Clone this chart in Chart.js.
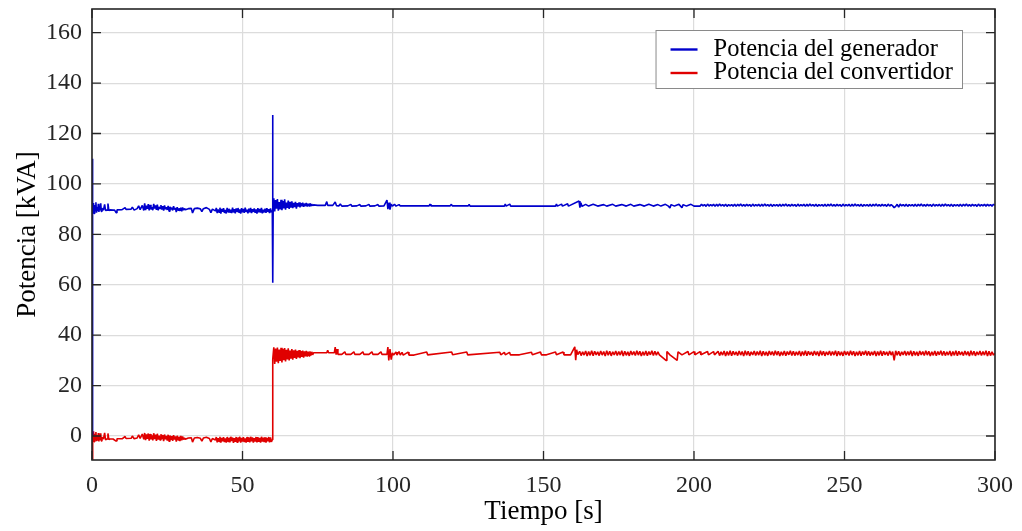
<!DOCTYPE html>
<html>
<head>
<meta charset="utf-8">
<script src="https://cdn.jsdelivr.net/npm/chart.js@4.4.1/dist/chart.umd.min.js"></script>
<style>
  html, body { margin: 0; padding: 0; background: #ffffff; }
  #wrap { width: 1022px; height: 531px; position: relative; }
</style>
</head>
<body>
<div id="wrap"><canvas id="c"></canvas></div>
<script>
// ---------------- DATA ----------------
const seriesLabels = ['Potencia del generador', 'Potencia del convertidor'];
const xTickValues = [0, 50, 100, 150, 200, 250, 300];
const yTickValues = [0, 20, 40, 60, 80, 100, 120, 140, 160];
const xLabel = 'Tiempo [s]';
const yLabel = 'Potencia [kVA]';

// Potencia del generador: time [s]
const tGenerador = [
  0, 0.1, 0.3, 0.5, 0.7, 0.9, 1.1, 1.3, 1.5, 1.7,
  1.9, 2.1, 2.3, 2.5, 2.7, 2.9, 3.1, 3.3,
  3.8, 4.2, 4.5, 5.0, 5.3, 5.6, 6.0, 7, 7.5, 8,
  8.3, 10, 11, 11.3, 13, 13.4, 14, 15, 15.5, 16,
  16.7, 17.2,
  17.5, 17.8, 18.1, 18.4, 18.7, 19, 19.3, 19.6, 19.9, 20.2,
  20.5, 20.8, 21.1, 21.4, 21.7, 22, 22.3, 22.6, 22.9, 23.2,
  23.5, 23.8, 24.1, 24.4, 24.7, 25, 25.3, 25.6, 25.9, 26.2,
  26.5, 26.8, 27.1, 27.4, 27.7, 28, 28.3, 28.6, 28.9, 29.2,
  29.5, 29.8, 30.1, 30.4, 30.7,
  31, 32, 33, 33.4, 34, 35, 36, 36.5, 37, 38,
  39, 39.5, 40, 41,
  41.3, 41.6, 41.9, 42.2, 42.5, 42.8, 43.1, 43.4, 43.7, 44,
  44.3, 44.6, 44.9, 45.2, 45.5, 45.8, 46.1, 46.4, 46.7, 47,
  47.3, 47.6, 47.9, 48.2, 48.5, 48.8, 49.1, 49.4, 49.7, 50,
  50.3, 50.6, 50.9, 51.2, 51.5, 51.8, 52.1, 52.4, 52.7, 53,
  53.3, 53.6, 53.9, 54.2, 54.5, 54.8, 55.1, 55.4, 55.7, 56,
  56.3, 56.6, 56.9, 57.2, 57.5, 57.8, 58.1, 58.4, 58.7, 59,
  59.3, 59.6, 59.9,
  60.0, 60.1, 60.2,
  60.4, 60.7, 61, 61.3, 61.6, 61.9, 62.2, 62.5, 62.8, 63.1,
  63.4, 63.7, 64, 64.3, 64.6, 64.9, 65.2, 65.5, 65.8, 66.1,
  66.4, 66.7, 67, 67.3, 67.6, 67.9, 68.2, 68.5, 68.8, 69.1,
  69.4, 69.7, 70, 70.3, 70.6, 70.9, 71.2, 71.5, 71.8, 72.1,
  72.4, 72.7, 73, 73.3, 73.6,
  75, 77.5, 78, 78.3, 80, 80.8, 81.2, 82, 82.5, 83,
  85, 86, 86.3, 88, 89, 89.3, 91, 92, 92.3, 94,
  95, 95.3, 97, 98, 98.3, 98.7, 99, 99.4, 99.8, 100.5,
  101, 102, 102.4, 105, 112, 112.3, 112.6, 119, 119.4, 119.7,
  125, 125.3, 125.6, 130, 137, 137.3, 137.6, 138.8, 139.1, 145,
  154, 154.3, 154.6, 156, 156.3, 158, 158.3, 161.8, 162.1, 162.4,
  162.8, 164, 165, 166.5, 168, 170, 171, 173, 174, 176,
  177.5, 179, 180, 182, 183.5, 185, 186.5, 188, 189, 190.5,
  191.5, 192, 192.4, 193.5, 195, 196, 196.4, 197.5, 199, 200,
  202, 202.5, 203, 203.5, 204, 204.5, 205, 205.5, 206, 206.5,
  207, 207.5, 208, 208.5, 209, 209.5, 210, 210.5, 211, 211.5,
  212, 212.5, 213, 213.5, 214, 214.5, 215, 215.5, 216, 216.5,
  217, 217.5, 218, 218.5, 219, 219.5, 220, 220.5, 221, 221.5,
  222, 222.5, 223, 223.5, 224, 224.5, 225, 225.5, 226, 226.5,
  227, 227.5, 228, 228.5, 229, 229.5, 230, 230.5, 231, 231.5,
  232, 232.5, 233, 233.5, 234, 234.5, 235, 235.5, 236, 236.5,
  237, 237.5, 238, 238.5, 239, 239.5, 240, 240.5, 241, 241.5,
  242, 242.5, 243, 243.5, 244, 244.5, 245, 245.5, 246, 246.5,
  247, 247.5, 248, 248.5, 249, 249.5, 250, 250.5, 251, 251.5,
  252, 252.5, 253, 253.5, 254, 254.5, 255, 255.5, 256, 256.5,
  257, 257.5, 258, 258.5, 259, 259.5, 260, 260.5, 261, 261.5,
  262, 262.5, 263, 263.5, 264, 264.5, 265, 265.5, 266, 266.5,
  267, 267.5, 268, 268.5, 269, 269.5, 270, 270.5, 271, 271.5,
  272, 272.5, 273, 273.5, 274, 274.5, 275, 275.5, 276, 276.5,
  277, 277.5, 278, 278.5, 279, 279.5, 280, 280.5, 281, 281.5,
  282, 282.5, 283, 283.5, 284, 284.5, 285, 285.5, 286, 286.5,
  287, 287.5, 288, 288.5, 289, 289.5, 290, 290.5, 291, 291.5,
  292, 292.5, 293, 293.5, 294, 294.5, 295, 295.5, 296, 296.5,
  297, 297.5, 298, 298.5, 299, 299.5, 300
];
// Potencia del generador: value [kVA]
const generador = [
  0, 110, 90, 92.4, 88.3, 91.6, 89.5, 92.7, 88.6, 90.8,
  89.2, 92.1, 88.9, 91.4, 89.8, 92.3, 89.1, 90.4,
  89.6, 91.9, 89.5, 89.6, 92.2, 89.4, 89.7, 89.6, 89.6, 88.6,
  89.7, 89.8, 90.6, 89.9, 90.0, 90.8, 89.6, 90.2, 91.3, 89.8,
  91.5, 89.5,
  92.3, 89.6, 91.4, 90.1, 92, 89.5, 91.7, 89.9, 90.8, 89.6,
  92.1, 90.2, 91.5, 89.7, 91.8, 89.5, 90.9, 90.3, 91.6, 89.8,
  91.2, 89.4, 91.5, 90, 90.8, 89.7, 91.3, 89.2, 90.9, 89.9,
  90.6, 89.5, 91.2, 89.8, 90.5, 88.8, 90.8, 89.6, 90.4, 89.3,
  90.6, 89.1, 90.7, 89.6, 90.2,
  89.8, 90.2, 90.3, 88.5, 90.2, 90.4, 90.1, 89, 90.2, 90.6,
  89.9, 88.6, 90, 89.3,
  90.5, 88.4, 89.9, 88.8, 90.6, 88.2, 90.1, 89, 90.4, 88.5,
  89.7, 88.3, 90.5, 88.9, 90.2, 88.6, 89.8, 88.4, 90.6, 88.7,
  90, 88.3, 90.3, 89.1, 90.5, 88.6, 89.9, 88.2, 90.4, 88.8,
  90.1, 88.5, 90.6, 88.9, 89.8, 88.3, 90.2, 88.7, 90.5, 88.4,
  90, 88.9, 90.3, 88.5, 89.9, 88.2, 90.4, 88.8, 90.1, 88.6,
  90.5, 88.3, 89.8, 88.7, 90.2, 88.5, 90.4, 88.9, 90, 88.4,
  90.3, 88.7, 89.5,
  127.3, 60.8, 92,
  94.3, 89.1, 93.6, 90.2, 94, 89.4, 92.8, 89.9, 93.7, 89.6,
  93.2, 90.3, 93.9, 89.8, 92.6, 90.5, 93.4, 90.1, 92.9, 90.6,
  93.1, 90.4, 92.5, 90.8, 92.9, 90.2, 92.4, 91, 92.7, 90.7,
  92.3, 91.1, 92.6, 90.9, 92.2, 91.2, 92.5, 91, 92.1, 91.3,
  92.3, 91.2, 92, 91.4, 91.7,
  91.5, 91.5, 93, 91.5, 91.5, 92.8, 91.4, 91.3, 92, 91.2,
  91.3, 91.9, 91.2, 91.3, 91.8, 91.2, 91.3, 91.9, 91.2, 91.3,
  91.8, 91.2, 91.3, 93.6, 90, 92.6, 89.8, 92, 91.2, 91.9,
  91.2, 91.8, 91.3, 91.3, 91.3, 92, 91.3, 91.3, 91.9, 91.3,
  91.3, 91.9, 91.2, 91.2, 91.2, 92, 91.2, 92, 91.2, 91.2,
  91.2, 92, 91.2, 92, 91.2, 92.1, 91.2, 93.2, 90.6, 92.5,
  91.1, 91.9, 91.2, 91.9, 91.2, 91.8, 91.2, 91.9, 91.2, 91.8,
  91.2, 91.9, 91.2, 91.8, 91.2, 91.9, 91.2, 91.8, 91.2, 91.9,
  91.2, 90.5, 91.8, 91.2, 91.9, 90.6, 91.8, 91.2, 91.9, 91.2,
  91.2, 91.9, 91.3, 91.8, 91.1, 92.0, 91.2, 91.8, 91.3, 91.9,
  91.1, 91.9, 91.2, 92.0, 91.3, 91.8, 91.2, 91.9, 91.1, 91.8,
  91.3, 91.8, 91.2, 91.9, 91.1, 91.9, 91.3, 92.0, 91.2, 91.8,
  91.2, 91.9, 91.3, 91.8, 91.1, 92.0, 91.2, 91.8, 91.3, 91.9,
  91.1, 91.9, 91.2, 92.0, 91.3, 91.8, 91.2, 91.9, 91.1, 91.8,
  91.3, 91.8, 91.2, 91.9, 91.1, 91.9, 91.3, 92.0, 91.2, 91.8,
  91.2, 91.9, 91.3, 91.8, 91.1, 92.0, 91.2, 91.8, 91.3, 91.9,
  91.1, 91.9, 91.2, 92.0, 91.3, 91.8, 91.2, 91.9, 91.1, 91.8,
  91.3, 91.8, 91.2, 91.9, 91.1, 91.9, 91.3, 92.0, 91.2, 91.8,
  91.2, 91.9, 91.3, 91.8, 91.1, 92.0, 91.2, 91.8, 91.3, 91.9,
  91.1, 91.9, 91.2, 92.0, 91.3, 91.8, 91.2, 91.9, 91.1, 91.8,
  91.3, 91.8, 91.2, 91.9, 91.1, 91.9, 91.3, 92.0, 91.2, 91.8,
  91.2, 91.9, 91.3, 91.8, 91.1, 92.0, 91.2, 91.8, 91.3, 90.6,
  91.1, 91.9, 90.8, 92.0, 91.3, 91.8, 91.2, 91.9, 91.1, 91.8,
  91.3, 91.8, 91.2, 91.9, 91.1, 91.9, 91.3, 92.0, 91.2, 91.8,
  91.2, 91.9, 91.3, 91.8, 91.1, 92.0, 91.2, 91.8, 91.3, 91.9,
  91.1, 91.9, 91.2, 92.0, 91.3, 91.8, 91.2, 91.9, 91.1, 91.8,
  91.3, 91.8, 91.2, 91.9, 91.1, 91.9, 91.3, 92.0, 91.2, 91.8,
  91.2, 91.9, 91.3, 91.8, 91.1, 92.0, 91.2, 91.8, 91.3, 91.9,
  91.2, 91.9, 91.3, 91.8, 91.2, 91.9, 91.5
];

// Potencia del convertidor: time [s]
const tConvertidor = [
  0, 0.15, 0.3, 0.5, 0.7, 0.9, 1.1, 1.3, 1.5, 1.7,
  1.9, 2.1, 2.3, 2.5, 2.7, 2.9, 3.1, 3.3,
  3.8, 4.2, 4.5, 5, 5.3, 5.6, 6, 7, 8, 8.3,
  10, 11, 11.3, 13, 13.4, 14, 15, 15.5, 16, 16.7,
  17.2,
  17.5, 17.8, 18.1, 18.4, 18.7, 19, 19.3, 19.6, 19.9, 20.2,
  20.5, 20.8, 21.1, 21.4, 21.7, 22, 22.3, 22.6, 22.9, 23.2,
  23.5, 23.8, 24.1, 24.4, 24.7, 25, 25.3, 25.6, 25.9, 26.2,
  26.5, 26.8, 27.1, 27.4, 27.7, 28, 28.3, 28.6, 28.9, 29.2,
  29.5, 29.8, 30.1, 30.4, 30.7,
  31, 32, 33, 33.4, 34, 35, 36, 36.5, 37, 38,
  39, 39.5, 40, 41,
  41.3, 41.6, 41.9, 42.2, 42.5, 42.8, 43.1, 43.4, 43.7, 44,
  44.3, 44.6, 44.9, 45.2, 45.5, 45.8, 46.1, 46.4, 46.7, 47,
  47.3, 47.6, 47.9, 48.2, 48.5, 48.8, 49.1, 49.4, 49.7, 50,
  50.3, 50.6, 50.9, 51.2, 51.5, 51.8, 52.1, 52.4, 52.7, 53,
  53.3, 53.6, 53.9, 54.2, 54.5, 54.8, 55.1, 55.4, 55.7, 56,
  56.3, 56.6, 56.9, 57.2, 57.5, 57.8, 58.1, 58.4, 58.7, 59,
  59.3, 59.6, 59.9,
  60.0, 60.1,
  60.4, 60.7, 61, 61.3, 61.6, 61.9, 62.2, 62.5, 62.8, 63.1,
  63.4, 63.7, 64, 64.3, 64.6, 64.9, 65.2, 65.5, 65.8, 66.1,
  66.4, 66.7, 67, 67.3, 67.6, 67.9, 68.2, 68.5, 68.8, 69.1,
  69.4, 69.7, 70, 70.3, 70.6, 70.9, 71.2, 71.5, 71.8, 72.1,
  72.4, 72.7, 73, 73.3, 73.6,
  75, 78, 78.3, 78.6, 80.5, 80.8, 81.1, 81.4, 81.7, 83,
  84, 84.3, 86, 87, 87.3, 89, 90, 90.3, 92, 93,
  93.3, 95, 96, 96.3, 98, 98.3, 98.6, 99, 99.4, 99.8,
  100.2, 101, 101.3, 102, 102.4, 103, 103.4, 105, 105.3, 107,
  111.2, 111.5, 119.5, 119.8, 124.5, 124.8, 135.5, 135.8, 137, 137.3,
  138.7, 139, 142, 146, 146.3, 149, 149.3, 151, 154, 154.3,
  156.5, 156.8, 159, 160.4, 160.7, 161, 161.4,
  162, 162.5, 163, 163.5, 164, 164.5, 165, 165.5, 166, 166.5,
  167, 167.5, 168, 168.5, 169, 169.5, 170, 170.5, 171, 171.5,
  172, 172.5, 173, 173.5, 174, 174.5, 175, 175.5, 176, 176.5,
  177, 177.5, 178, 178.5, 179, 179.5, 180, 180.5, 181, 181.5,
  182, 182.5, 183, 183.5, 184, 184.5, 185, 185.5, 186, 186.5,
  187, 187.5, 188, 188.5,
  190.7, 191, 192, 194.4, 194.7, 196, 198, 198.3, 200, 200.3,
  202, 202.3, 204.5, 204.8, 206.5, 206.8,
  208, 208.5, 209, 209.5, 210, 210.5, 211, 211.5, 212, 212.5,
  213, 213.5, 214, 214.5, 215, 215.5, 216, 216.5, 217, 217.5,
  218, 218.5, 219, 219.5, 220, 220.5, 221, 221.5, 222, 222.5,
  223, 223.5, 224, 224.5, 225, 225.5, 226, 226.5, 227, 227.5,
  228, 228.5, 229, 229.5, 230, 230.5, 231, 231.5, 232, 232.5,
  233, 233.5, 234, 234.5, 235, 235.5, 236, 236.5, 237, 237.5,
  238, 238.5, 239, 239.5, 240, 240.5, 241, 241.5, 242, 242.5,
  243, 243.5, 244, 244.5, 245, 245.5, 246, 246.5, 247, 247.5,
  248, 248.5, 249, 249.5, 250, 250.5, 251, 251.5, 252, 252.5,
  253, 253.5, 254, 254.5, 255, 255.5, 256, 256.5, 257, 257.5,
  258, 258.5, 259, 259.5, 260, 260.5, 261, 261.5, 262, 262.5,
  263, 263.5, 264, 264.5, 265, 265.5, 266, 266.5, 267, 267.5,
  268, 268.5, 269, 269.5, 270, 270.5, 271, 271.5, 272, 272.5,
  273, 273.5, 274, 274.5, 275, 275.5, 276, 276.5, 277, 277.5,
  278, 278.5, 279, 279.5, 280, 280.5, 281, 281.5, 282, 282.5,
  283, 283.5, 284, 284.5, 285, 285.5, 286, 286.5, 287, 287.5,
  288, 288.5, 289, 289.5, 290, 290.5, 291, 291.5, 292, 292.5,
  293, 293.5, 294, 294.5, 295, 295.5, 296, 296.5, 297, 297.5,
  298, 298.5, 299, 299.5, 300
];
// Potencia del convertidor: value [kVA]
const convertidor = [
  -14, 1.5, -2, 1.9, -2.3, 0.9, -1.5, 1.6, -2.1, 0.4,
  -1.8, 1.2, -2.2, 0.7, -1.4, 1.1, -2, -0.5,
  -1.2, 1.2, -1.5, -1.2, 1, -1.4, -1.2, -1.2, -2, -1.1,
  -1.1, -0.2, -1, -0.9, 0, -1.1, -0.8, 0.5, -1, 0.8,
  -1.3,
  1.2, -1.6, 0.6, -1.1, 1, -1.8, 0.8, -1.3, 0.2, -1.7,
  1.1, -1.2, 0.5, -1.9, 0.9, -1.4, 0.1, -1.6, 0.7, -1.2,
  0.4, -2, 0.6, -1.3, 0, -1.8, 0.5, -2.1, 0.2, -1.5,
  -0.1, -1.9, 0.3, -1.4, -0.2, -2.2, 0.1, -1.6, -0.3, -2,
  0, -1.7, -0.2, -1.4, -0.8,
  -1.3, -0.8, -0.7, -2.4, -0.8, -0.6, -0.9, -2, -0.8, -0.5,
  -1, -2.3, -1, -1.6,
  -0.4, -2.5, -0.9, -2.2, -0.3, -2.6, -0.8, -2.1, -0.5, -2.4,
  -1, -2.6, -0.4, -2.2, -0.7, -2.5, -0.3, -2, -0.6, -2.7,
  -0.9, -2.3, -0.4, -2.5, -0.6, -2.1, -0.3, -2.6, -0.8, -2.2,
  -0.5, -2.4, -1, -2.6, -0.4, -2.3, -0.7, -2.5, -0.3, -2.1,
  -0.6, -2.6, -0.9, -2.2, -0.4, -2.5, -0.5, -2.3, -0.8, -2.6,
  -0.3, -2.2, -0.7, -2.4, -0.5, -2.6, -0.9, -2.1, -0.4, -2.5,
  -0.6, -2.3, -1.5,
  -1.2, 30.5,
  35.2, 28.6, 34.7, 29.5, 35.1, 28.9, 34.3, 29.8, 35, 29.2,
  34.6, 30.1, 34.9, 29.6, 34.2, 30.4, 34.8, 30, 33.9, 30.7,
  34.5, 30.3, 34, 31, 34.3, 30.6, 33.8, 31.2, 34.1, 30.9,
  33.7, 31.4, 33.9, 31.1, 33.6, 31.6, 33.8, 31.5, 33.5, 31.8,
  33.6, 31.9, 33.4, 32.2, 33,
  33, 33, 34, 33, 33, 35.3, 32.3, 34.5, 32.4, 32.4,
  33.4, 32.4, 32.4, 33.4, 32.4, 32.4, 33.4, 32.4, 32.4, 33.4,
  32.4, 32.4, 33.4, 32.4, 32.4, 35.3, 30, 34.5, 30.3, 33,
  32.1, 33.3, 32.1, 33.5, 32.1, 33.2, 32.1, 33.3, 32.1, 32.1,
  33.3, 32.2, 33.3, 32.2, 33.3, 32.2, 33.2, 32.2, 33.2, 32.2,
  33.2, 32.2, 32.2, 33.2, 32.2, 33.3, 32.2, 32.2, 33.3, 32.2,
  33.3, 32.2, 32.2, 35.4, 30.1, 34.2, 32.3,
  33.6, 31.9, 33.4, 32.1, 33.7, 31.7, 33.5, 32.0, 33.8, 31.8,
  33.6, 32.2, 33.4, 31.9, 33.7, 32.1, 33.5, 31.7, 33.8, 32.0,
  33.6, 31.8, 33.4, 32.2, 33.7, 31.9, 33.5, 32.1, 33.8, 31.7,
  33.6, 32.0, 33.4, 31.8, 33.7, 32.2, 33.5, 31.9, 33.8, 32.1,
  33.6, 31.7, 33.4, 32.0, 33.7, 31.8, 33.5, 32.2, 33.8, 31.9,
  33.6, 32.1, 33.4, 32.2,
  30, 33.5, 32.2, 30, 33.4, 32.2, 33.5, 32.2, 33.5, 32.2,
  33.5, 32.2, 33.5, 32.2, 33.5, 32.2,
  33.6, 31.9, 33.4, 32.1, 33.7, 31.7, 33.5, 32.0, 33.8, 31.8,
  33.6, 32.2, 33.4, 31.9, 33.7, 32.1, 33.5, 31.7, 33.8, 32.0,
  33.6, 31.8, 33.4, 32.2, 33.7, 31.9, 33.5, 32.1, 33.8, 31.7,
  33.6, 32.0, 33.4, 31.8, 33.7, 32.2, 33.5, 31.9, 33.8, 32.1,
  33.6, 31.7, 33.4, 32.0, 33.7, 31.8, 33.5, 32.2, 33.8, 31.9,
  33.6, 31.9, 33.4, 32.1, 33.7, 31.7, 33.5, 32.0, 33.8, 31.8,
  33.6, 32.2, 33.4, 31.9, 33.7, 32.1, 33.5, 31.7, 33.8, 32.0,
  33.6, 31.8, 33.4, 32.2, 33.7, 31.9, 33.5, 32.1, 33.8, 31.7,
  33.6, 32.0, 33.4, 31.8, 33.7, 32.2, 33.5, 31.9, 33.8, 32.1,
  33.6, 31.7, 33.4, 32.0, 33.7, 31.8, 33.5, 32.2, 33.8, 31.9,
  33.6, 31.9, 33.4, 32.1, 33.7, 31.7, 33.5, 32.0, 33.8, 31.8,
  33.6, 32.2, 33.4, 31.9, 33.7, 32.1, 33.5, 30, 33.8, 32.0,
  33.6, 31.8, 33.4, 32.2, 33.7, 31.9, 33.5, 32.1, 33.8, 31.7,
  33.6, 32.0, 33.4, 31.8, 33.7, 32.2, 33.5, 31.9, 33.8, 32.1,
  33.6, 31.7, 33.4, 32.0, 33.7, 31.8, 33.5, 32.2, 33.8, 31.9,
  33.6, 31.9, 33.4, 32.1, 33.7, 31.7, 33.5, 32.0, 33.8, 31.8,
  33.6, 32.2, 33.4, 31.9, 33.7, 32.1, 33.5, 31.7, 33.8, 32.0,
  33.6, 31.8, 33.4, 32.2, 33.7, 31.9, 33.5, 32.1, 33.8, 31.7,
  33.6, 31.9, 33.4, 32.1, 32.8
];

// ---------------- CHART ----------------
const FONT = '"Liberation Serif", "Times New Roman", serif';
const TEXT = '#262626';
const toPoints = (ts, vs) => ts.map((t, i) => ({ x: t, y: vs[i] }));

const boxPlugin = {
  id: 'matlabBox',
  afterDatasetsDraw(chart) {
    const { ctx, chartArea: a, scales: { x, y } } = chart;
    ctx.save();
    const L = 9;
    ctx.strokeStyle = TEXT;
    ctx.lineWidth = 1.3;
    ctx.beginPath();
    x.ticks.forEach(t => {
      const px = x.getPixelForValue(t.value);
      ctx.moveTo(px, a.bottom); ctx.lineTo(px, a.bottom - L);
      ctx.moveTo(px, a.top); ctx.lineTo(px, a.top + L);
    });
    y.ticks.forEach(t => {
      const py = y.getPixelForValue(t.value);
      ctx.moveTo(a.left, py); ctx.lineTo(a.left + L, py);
      ctx.moveTo(a.right, py); ctx.lineTo(a.right - L, py);
    });
    ctx.stroke();
    ctx.lineWidth = 1.6;
    ctx.strokeRect(a.left, a.top, a.right - a.left, a.bottom - a.top);

    // legend (inside, upper right)
    ctx.font = '24.5px ' + FONT;
    const labels = chart.data.datasets.map(d => d.label);
    const tw = Math.max(...labels.map(s => ctx.measureText(s).width));
    const right = a.right - 33;
    const top = a.top + 21;
    const w = 58 + tw + 9;
    const left = right - w;
    const h = 58;
    ctx.fillStyle = '#ffffff';
    ctx.fillRect(left, top, w, h);
    ctx.strokeStyle = '#8a8a8a';
    ctx.lineWidth = 1;
    ctx.strokeRect(left + 0.5, top + 0.5, w, h);
    const lineYs = [top + 19.5, top + 43];
    const baseYs = [top + 25.5, top + 49];
    chart.data.datasets.forEach((d, i) => {
      ctx.strokeStyle = d.borderColor;
      ctx.lineWidth = 2.4;
      ctx.beginPath();
      ctx.moveTo(left + 15, lineYs[i]);
      ctx.lineTo(left + 42, lineYs[i]);
      ctx.stroke();
      ctx.fillStyle = '#000000';
      ctx.textBaseline = 'alphabetic';
      ctx.textAlign = 'left';
      ctx.fillText(d.label, left + 58, baseYs[i]);
    });
    ctx.restore();
  }
};

new Chart(document.getElementById('c'), {
  type: 'line',
  data: {
    datasets: [
      {
        label: seriesLabels[0],
        data: toPoints(tGenerador, generador),
        borderColor: '#0000cc',
        borderWidth: 1.6,
        borderJoinStyle: 'bevel',
        pointRadius: 0,
        tension: 0,
        fill: false
      },
      {
        label: seriesLabels[1],
        data: toPoints(tConvertidor, convertidor),
        borderColor: '#e00000',
        borderWidth: 1.6,
        borderJoinStyle: 'bevel',
        pointRadius: 0,
        tension: 0,
        fill: false
      }
    ]
  },
  options: {
    responsive: true,
    maintainAspectRatio: false,
    animation: false,
    devicePixelRatio: 1,
    layout: { padding: { top: 9, right: 27, left: 0, bottom: 0 } },
    plugins: {
      legend: { display: false },
      tooltip: { enabled: false }
    },
    scales: {
      x: {
        type: 'linear',
        min: 0,
        max: 300,
        afterBuildTicks: s => { s.ticks = xTickValues.map(v => ({ value: v })); },
        afterFit: s => { s.height = 71; s.paddingLeft = 0; s.paddingRight = 0; },
        ticks: {
          font: { family: FONT, size: 24 },
          color: TEXT,
          padding: 11,
          maxRotation: 0
        },
        grid: { color: '#dcdcdc', lineWidth: 1.2, drawTicks: false },
        border: { display: false },
        title: {
          display: true,
          text: xLabel,
          font: { family: FONT, size: 27 },
          color: '#000000',
          padding: { top: 0, bottom: 3 }
        }
      },
      y: {
        type: 'linear',
        min: -9.52,
        max: 169.4,
        afterBuildTicks: s => { s.ticks = yTickValues.map(v => ({ value: v })); },
        afterFit: s => { s.width = 92; s.paddingTop = 0; s.paddingBottom = 0; },
        ticks: {
          font: { family: FONT, size: 24 },
          color: TEXT,
          padding: 10
        },
        grid: { color: '#dcdcdc', lineWidth: 1.2, drawTicks: false },
        border: { display: false },
        title: {
          display: true,
          text: yLabel,
          font: { family: FONT, size: 27 },
          color: '#000000',
          padding: { top: 12, bottom: 0 }
        }
      }
    }
  },
  plugins: [boxPlugin]
});
</script>
</body>
</html>
